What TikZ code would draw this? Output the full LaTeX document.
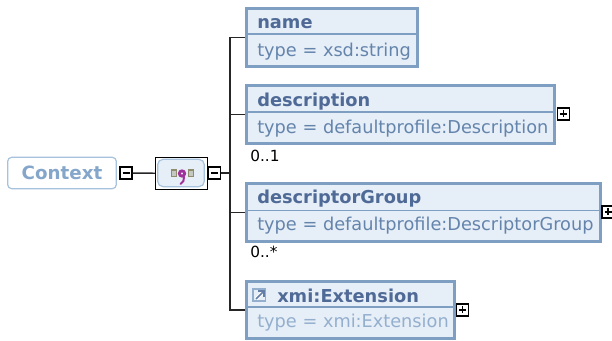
\documentclass[tikz,border=0pt]{standalone}
\usepackage{fontspec}
\setmainfont{DejaVu Sans}
\usepackage{tikz}
\usetikzlibrary{calc}
\definecolor{boxline}{HTML}{7F9FC2}
\definecolor{boxfill}{HTML}{E6EEF7}
\definecolor{titletext}{HTML}{4F6A96}
\definecolor{typetext}{HTML}{6484AC}
\definecolor{reftext}{HTML}{94AFCE}
\definecolor{ctxline}{HTML}{A6C2DD}
\definecolor{ctxtext}{HTML}{84A6CA}
\definecolor{seqdot}{HTML}{8E8E6E}
\definecolor{seqmark}{HTML}{A0309A}
\tikzset{
  element/.style={draw=boxline,fill=boxfill,line width=1.9pt,inner sep=0pt,anchor=north west},
  title/.style={anchor=base west,inner sep=0pt,text=titletext,font=\fontsize{13.35}{14}\bfseries},
  typeline/.style={anchor=base west,inner sep=0pt,text=typetext,font=\fontsize{13.3}{14}\selectfont},
  divider/.style={draw=boxline,line width=1pt},
  toggle/.style={draw=black,fill=white,line width=0.9pt,inner sep=0pt,minimum size=9pt},
  occurs/.style={anchor=base west,inner sep=0pt,font=\fontsize{11.5}{12}\selectfont},
  link/.style={draw=black!85,line width=1.1pt}
}
\begin{document}
\begin{tikzpicture}[x=0.75pt,y=-0.75pt]
\useasboundingbox (0,0) rectangle (612,341);

% root
\node[draw=ctxline,line width=0.9pt,rounded corners=3pt,fill=white,minimum width=81.5pt,minimum height=23.5pt,inner sep=0pt,text=ctxtext,font=\fontsize{13.7}{14}\bfseries] (context) at (62,173) {Context};
\node[toggle] (ctxminus) at (126,173) {};
\draw[line width=0.9pt] (ctxminus.center)+(-3.5,0) -- +(3.5,0);

% sequence
\node[draw=black,line width=1.1pt,fill=white,minimum width=39pt,minimum height=24pt,inner sep=0pt] (seq) at (181.5,173.5) {};
\node[draw=ctxline,line width=0.9pt,fill=boxfill,rounded corners=4pt,minimum width=35pt,minimum height=20.5pt,inner sep=0pt] (seqicon) at (181,173) {};
\draw[seqdot,line width=1.2pt,fill=seqdot!40!boxfill] (171.5,170) rectangle (176.5,176.5);
\draw[seqdot,line width=1.2pt,fill=seqdot!40!boxfill] (188.5,170) rectangle (193.5,176.5);
\draw[seqmark,line width=1.5pt,line cap=round] (184,177) .. controls (184.5,180) and (183,182.5) .. (180.5,184);
\fill[seqmark,even odd rule] (182,173.5) circle (4.2) (182,173.5) circle (1.4);
\node[toggle] (seqminus) at (214.3,173) {};
\draw[line width=0.9pt] (seqminus.center)+(-3.5,0) -- +(3.5,0);

% children
\node[element,minimum width=128.6pt,minimum height=43.85pt] (name) at (245,7) {};
\node[element,minimum width=231.35pt,minimum height=43.85pt] (description) at (245,84) {};
\node[element,minimum width=265.85pt,minimum height=43.85pt] (group) at (245,182) {};
\node[element,minimum width=156.35pt,minimum height=43.1pt] (extension) at (245,280) {};

\draw[divider] (name.west |- 0,34) -- (name.east |- 0,34);
\draw[divider] (description.west |- 0,112) -- (description.east |- 0,112);
\draw[divider] (group.west |- 0,210.5) -- (group.east |- 0,210.5);
\draw[divider] (extension.west |- 0,307) -- (extension.east |- 0,307);

\node[title] (nametitle) at (257,29) {name};
\node[typeline] (nametype) at (257,56.5) {type = xsd:string};
\node[title] (desctitle) at (257,107) {description};
\node[typeline] (desctype) at (257,133.5) {type = defaultprofile:Description};
\node[title] (grouptitle) at (257,204) {descriptorGroup};
\node[typeline] (grouptype) at (257,231) {type = defaultprofile:DescriptorGroup};
\node[title] (exttitle) at (277,302.5) {xmi:Extension};
\node[typeline,text=reftext] (exttype) at (257,328) {type = xmi:Extension};

% reference arrow
\draw[reftext,line width=0.9pt] (253,289) rectangle (265.5,301);
\draw[white,line width=2.4pt] (256,299) -- (263,292);
\draw[titletext!70!reftext,line width=1.2pt] (256,299) -- (264,291) (258,291) -- (264,291) -- (264,297);

\node[toggle] (descplus) at (563.3,114) {};
\draw[line width=0.9pt] (descplus.center)+(-3.5,0) -- +(3.5,0) (descplus.center)+(0,-3.5) -- +(0,3.5);
\node[toggle] (groupplus) at (608,212) {};
\draw[line width=0.9pt] (groupplus.center)+(-3.5,0) -- +(3.5,0) (groupplus.center)+(0,-3.5) -- +(0,3.5);
\node[toggle] (extplus) at (462.5,310) {};
\draw[line width=0.9pt] (extplus.center)+(-3.5,0) -- +(3.5,0) (extplus.center)+(0,-3.5) -- +(0,3.5);

\node[occurs] (descoccurs) at (250,161.5) {0..1};
\node[occurs] (groupoccurs) at (250,258) {0..*};

% connectors
\coordinate (trunk) at (230,173);
\draw[link] (ctxminus) -- (seq);
\draw[link] (seqminus) -- (trunk);
\draw[link] (name.west) -| (trunk);
\draw[link] (description.west) -| (trunk);
\draw[link] (group.west) -| (trunk);
\draw[link] (extension.west) -| (trunk);

\end{tikzpicture}
\end{document}
